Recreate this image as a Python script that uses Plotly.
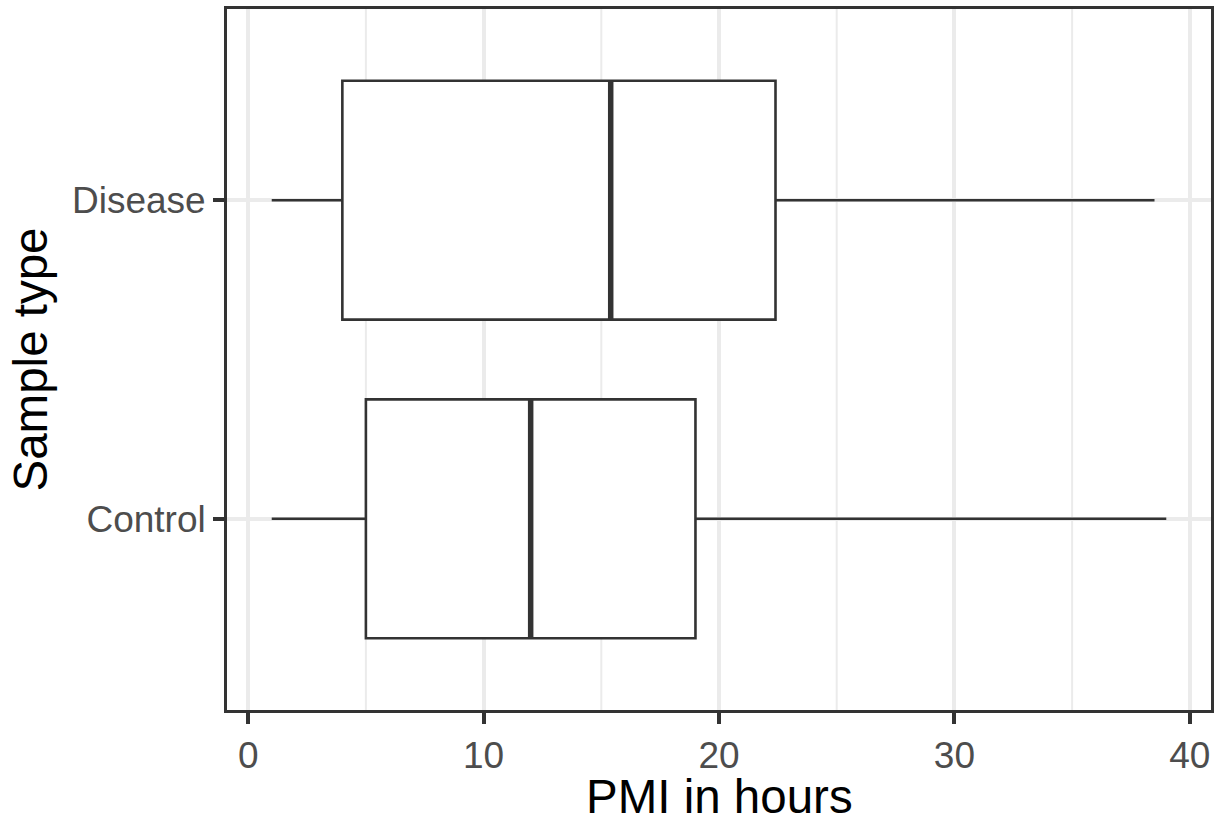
import plotly.graph_objects as go

# Summary statistics of post-mortem interval (hours) per sample type
categories = ["Control", "Disease"]
positions = [1, 2]
lower_whisker = [1.0, 1.0]
q1 = [5.0, 4.0]
median = [12.0, 15.4]
q3 = [19.0, 22.4]
upper_whisker = [39.0, 38.5]

x_ticks = [0, 10, 20, 30, 40]
x_minor = [5, 15, 25, 35]

INK = "#333333"
GRID = "#EBEBEB"
FONT = "Liberation Sans, Arial, sans-serif"
BOX_W = 0.75

W, H = 1225, 820
M_L, M_R, M_T, M_B = 227, 14, 9, 110
PLOT_W = W - M_L - M_R
PLOT_H = H - M_T - M_B

fig = go.Figure()

for i, cat in enumerate(categories):
    fig.add_trace(go.Box(
        y=[positions[i]],
        q1=[q1[i]], median=[median[i]], q3=[q3[i]],
        lowerfence=[lower_whisker[i]], upperfence=[upper_whisker[i]],
        orientation="h", width=BOX_W, whiskerwidth=0,
        fillcolor="white", line=dict(color=INK, width=2.6),
        boxpoints=False, name=cat, showlegend=False, hoverinfo="skip",
    ))
    # heavier median bar, as in ggplot's fattened median
    fig.add_trace(go.Scatter(
        x=[median[i], median[i]],
        y=[positions[i] - BOX_W / 2, positions[i] + BOX_W / 2],
        mode="lines", line=dict(color=INK, width=5.5),
        showlegend=False, hoverinfo="skip",
    ))

# minor vertical grid lines between the major ticks
for xm in x_minor:
    fig.add_shape(type="line", xref="x", yref="paper", x0=xm, x1=xm, y0=0, y1=1,
                  line=dict(color=GRID, width=2), layer="below")

# axis titles placed as annotations (paper coordinates relative to the panel)
fig.add_annotation(
    text="PMI in hours", xref="paper", yref="paper",
    x=0.5, y=-(796 - (H - M_B)) / PLOT_H, xanchor="center", yanchor="middle",
    height=44, valign="middle",
    showarrow=False, font=dict(size=47.5, color="black", family=FONT),
)
fig.add_annotation(
    text="Sample type", xref="paper", yref="paper", textangle=-90,
    x=(30 - M_L) / PLOT_W, y=0.5, xanchor="center", yanchor="middle",
    showarrow=False, font=dict(size=47.5, color="black", family=FONT),
)

fig.update_layout(
    width=W, height=H,
    margin=dict(l=M_L, r=M_R, t=M_T, b=M_B),
    plot_bgcolor="white", paper_bgcolor="white",
    font=dict(family=FONT, color="#4D4D4D"),
    xaxis=dict(
        range=[-0.9, 40.9], tickvals=x_ticks, ticktext=[str(v) for v in x_ticks],
        showgrid=True, gridcolor=GRID, gridwidth=4, zeroline=False,
        showline=True, mirror=True, linecolor=INK, linewidth=2.8,
        ticks="outside", ticklen=11, tickwidth=3.5, tickcolor=INK,
        tickfont=dict(size=37, color="#4D4D4D"), automargin=False,
    ),
    yaxis=dict(
        range=[0.4, 2.6], tickvals=positions, ticktext=categories,
        showgrid=True, gridcolor=GRID, gridwidth=4, zeroline=False,
        showline=True, mirror=True, linecolor=INK, linewidth=2.8,
        ticks="outside", ticklen=11, tickwidth=3.5, tickcolor=INK,
        tickfont=dict(size=37, color="#4D4D4D"), automargin=False,
    ),
)

fig.write_html("out.html")
